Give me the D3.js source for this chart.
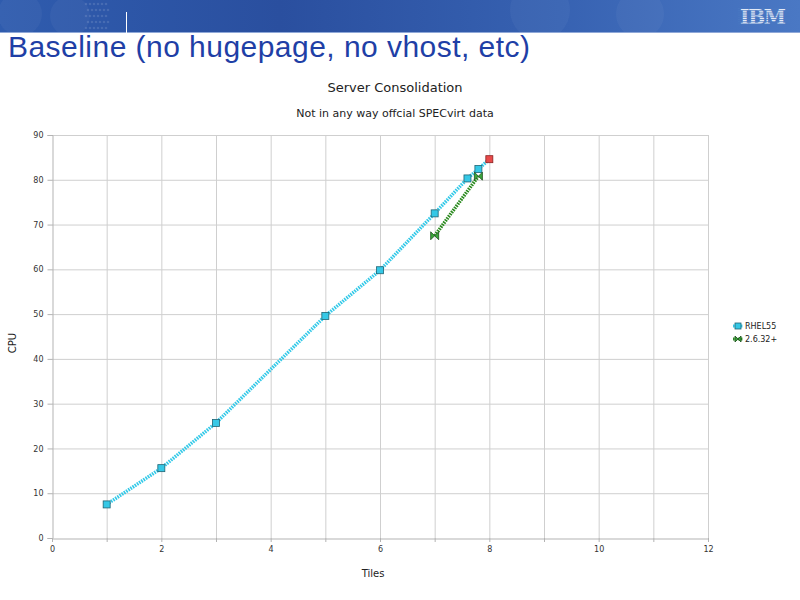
<!DOCTYPE html>
<html>
<head>
<meta charset="utf-8">
<script src="https://cdn.jsdelivr.net/npm/d3@7"></script>
<style>
  body { margin: 0; background: #fff; }
  svg { display: block; }
</style>
</head>
<body>
<div id="chart"></div>
<script>
// data
const rhelTiles = [1, 2, 3, 5, 6, 7, 7.6, 7.8, 8];
const rhelCpu = [7.5, 15.6, 25.7, 49.6, 59.8, 72.5, 80.3, 82.4, 84.6];
const kvmTiles = [7, 7.8];
const kvmCpu = [67.5, 80.8];
const xTicks = [0, 2, 4, 6, 8, 10, 12];
const yTicks = [0, 10, 20, 30, 40, 50, 60, 70, 80, 90];
const seriesNames = ["RHEL55", "2.6.32+"];

const W = 800, H = 600;
const margin = { left: 52, right: 92, top: 135, bottom: 62 };
const width = W - margin.left - margin.right;
const height = H - margin.top - margin.bottom;

const svg = d3.select("#chart").append("svg")
  .attr("width", W).attr("height", H);

// ---- slide header ----
const defs = svg.append("defs");
const grad = defs.append("linearGradient").attr("id", "banner")
  .attr("x1", "0").attr("x2", "1").attr("y1", "0").attr("y2", "0");
grad.append("stop").attr("offset", "0").attr("stop-color", "#2f5cae");
grad.append("stop").attr("offset", "0.35").attr("stop-color", "#2a4f9f");
grad.append("stop").attr("offset", "0.7").attr("stop-color", "#3762b2");
grad.append("stop").attr("offset", "1").attr("stop-color", "#4a78c4");
svg.append("rect").attr("x", 0).attr("y", 0).attr("width", W).attr("height", 32)
  .attr("fill", "url(#banner)");
// soft circles in banner
[[20, 14, 22], [70, 16, 20], [540, 10, 30], [640, 14, 24]].forEach(c => {
  svg.append("circle").attr("cx", c[0]).attr("cy", c[1]).attr("r", c[2])
    .attr("fill", "#ffffff").attr("opacity", 0.04);
});
// dotted pattern in banner
d3.range(6).forEach(i => d3.range(5).forEach(j => {
  svg.append("circle").attr("cx", 86 + i * 4 + (j % 2) * 2).attr("cy", 4 + j * 6)
    .attr("r", 1.3).attr("fill", "#ffffff").attr("opacity", 0.12);
}));
svg.append("line").attr("x1", 0).attr("x2", W).attr("y1", 32.5).attr("y2", 32.5)
  .attr("stroke", "#8fa8d8").attr("stroke-width", 1);
svg.append("line").attr("x1", 126.5).attr("x2", 126.5).attr("y1", 12).attr("y2", 34)
  .attr("stroke", "#ffffff").attr("stroke-width", 1);

// IBM logo
const logo = svg.append("g");
logo.append("text").attr("x", 763).attr("y", 24)
  .attr("text-anchor", "middle")
  .style("font-family", "DejaVu Serif, serif").style("font-weight", "bold")
  .style("font-size", "20px").attr("fill", "#e3e9f6").attr("textLength", 46)
  .text("IBM");
d3.range(8).forEach(i => {
  logo.append("line").attr("x1", 738).attr("x2", 790)
    .attr("y1", 8.5 + i * 2.2).attr("y2", 8.5 + i * 2.2)
    .attr("stroke", "#4a78c2").attr("stroke-width", 0.8);
});

svg.append("text").attr("x", 8).attr("y", 57)
  .style("font-family", "Liberation Sans, Arial, sans-serif")
  .style("font-size", "30px").attr("fill", "#1f3fa6")
  .attr("textLength", 522)
  .text("Baseline (no hugepage, no vhost, etc)");

// ---- chart ----
const x = d3.scaleLinear().domain([0, 12]).range([0, width]);
const y = d3.scaleLinear().domain([0, 90]).range([height, 0]);

const g = svg.append("g").attr("transform", `translate(${margin.left},${margin.top})`);
const font = "DejaVu Sans, sans-serif";

// grid
g.append("g").selectAll("line").data(d3.range(1, 13)).join("line")
  .attr("x1", d => x(d) + 0.5).attr("x2", d => x(d) + 0.5)
  .attr("y1", 0).attr("y2", height)
  .attr("stroke", "#cfcfcf");
g.append("g").selectAll("line").data(yTicks.slice(1)).join("line")
  .attr("x1", 0).attr("x2", width)
  .attr("y1", d => y(d) + 0.5).attr("y2", d => y(d) + 0.5)
  .attr("stroke", "#cfcfcf");

// axes
const xAxis = g.append("g").attr("transform", `translate(0,${height + 0.5})`)
  .call(d3.axisBottom(x).tickValues(xTicks).tickSize(0).tickPadding(8));
const yAxis = g.append("g").attr("transform", "translate(0.5,0)")
  .call(d3.axisLeft(y).tickValues(yTicks).tickSize(5).tickPadding(4));
[xAxis, yAxis].forEach(a => {
  a.selectAll("path, line").attr("stroke", "#b3b3b3");
  a.selectAll("text").style("font-family", font).style("font-size", "8px").attr("fill", "#333");
});
// minor ticks on x axis
g.append("g").selectAll("line").data(d3.range(0, 13)).join("line")
  .attr("x1", d => x(d) + 0.5).attr("x2", d => x(d) + 0.5)
  .attr("y1", height).attr("y2", height + 4).attr("stroke", "#b3b3b3");

// titles
svg.append("text").attr("x", 395).attr("y", 92).attr("text-anchor", "middle")
  .style("font-family", font).style("font-size", "13px").attr("fill", "#222")
  .text("Server Consolidation");
svg.append("text").attr("x", 395).attr("y", 117).attr("text-anchor", "middle")
  .style("font-family", font).style("font-size", "11px").attr("fill", "#222")
  .text("Not in any way offcial SPECvirt data");
svg.append("text").attr("x", 373).attr("y", 577).attr("text-anchor", "middle")
  .style("font-family", font).style("font-size", "10px").attr("fill", "#222")
  .text("Tiles");
svg.append("text").attr("transform", "translate(16,343) rotate(-90)")
  .attr("text-anchor", "middle")
  .style("font-family", font).style("font-size", "10px").attr("fill", "#222")
  .text("CPU");

// lines
const line = d3.line().x(d => x(d[0])).y(d => y(d[1]));
const rhel = rhelTiles.map((t, i) => [t, rhelCpu[i]]);
const kvm = kvmTiles.map((t, i) => [t, kvmCpu[i]]);

g.append("path").datum(rhel).attr("d", line)
  .attr("fill", "none").attr("stroke", "#33c9e8").attr("stroke-width", 3.5)
  .attr("stroke-dasharray", "1.6,1");
g.append("path").datum(kvm).attr("d", line)
  .attr("fill", "none").attr("stroke", "#2a8a1e").attr("stroke-width", 3.5)
  .attr("stroke-dasharray", "1.6,1");

// markers
const sq = 7;
g.append("g").selectAll("rect").data(rhel).join("rect")
  .attr("x", d => x(d[0]) - sq / 2).attr("y", d => y(d[1]) - sq / 2)
  .attr("width", sq).attr("height", sq)
  .attr("fill", (d, i) => i === rhel.length - 1 ? "#e84a4a" : "#35c8e6")
  .attr("stroke", (d, i) => i === rhel.length - 1 ? "#8a2020" : "#1f6474")
  .attr("stroke-width", 0.8);

const bow = d => {
  const cx = x(d[0]), cy = y(d[1]), s = 4;
  return `M${cx - s},${cy - s}L${cx},${cy}L${cx - s},${cy + s}Z M${cx + s},${cy - s}L${cx},${cy}L${cx + s},${cy + s}Z`;
};
g.append("g").selectAll("path").data(kvm).join("path")
  .attr("d", bow).attr("fill", "#3aa63a").attr("stroke", "#1d4f1d").attr("stroke-width", 0.8);

// legend
const leg = svg.append("g").attr("transform", "translate(733,326)");
seriesNames.forEach((name, i) => {
  const row = leg.append("g").attr("transform", `translate(0,${i * 13})`);
  row.append("line").attr("x1", 0).attr("x2", 10).attr("y1", 0).attr("y2", 0)
    .attr("stroke", i === 0 ? "#33c9e8" : "#2a8a1e").attr("stroke-width", 3)
    .attr("stroke-dasharray", "1.6,1");
  if (i === 0) {
    row.append("rect").attr("x", 2).attr("y", -3).attr("width", 6).attr("height", 6)
      .attr("fill", "#35c8e6").attr("stroke", "#1f6474").attr("stroke-width", 0.8);
  } else {
    row.append("path").attr("d", "M2,-3L5,0L2,3Z M8,-3L5,0L8,3Z")
      .attr("fill", "#3aa63a").attr("stroke", "#1d4f1d").attr("stroke-width", 0.8);
  }
  row.append("text").attr("x", 12).attr("y", 3)
    .style("font-family", font).style("font-size", "8px").attr("fill", "#222")
    .text(name);
});
</script>
</body>
</html>
